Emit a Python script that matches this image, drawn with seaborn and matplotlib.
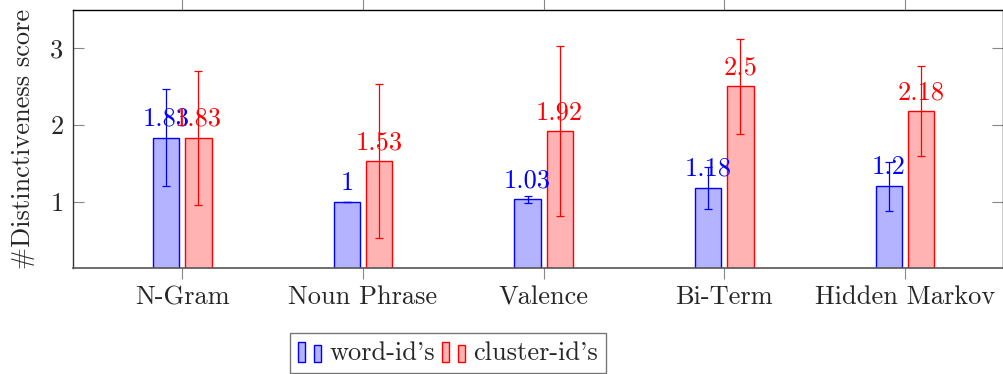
import matplotlib
matplotlib.use("Agg")
import matplotlib.pyplot as plt
from matplotlib.patches import Rectangle, Patch
from matplotlib.legend_handler import HandlerBase
import seaborn as sns
import pandas as pd
import numpy as np

categories = ["N-Gram", "Noun Phrase", "Valence", "Bi-Term", "Hidden Markov"]
series = ["word-id's", "cluster-id's"]
word_vals = [1.83, 1.0, 1.03, 1.18, 1.2]
word_err = [0.63, 0.0, 0.05, 0.27, 0.32]
cluster_vals = [1.83, 1.53, 1.92, 2.5, 2.18]
cluster_err = [0.87, 1.0, 1.1, 0.62, 0.59]
word_labels = ["1.83", "1", "1.03", "1.18", "1.2"]
cluster_labels = ["1.83", "1.53", "1.92", "2.5", "2.18"]
yticks = [1, 2, 3]

sns.set_style("white")
plt.rcParams['font.family'] = ['cmr10', 'DejaVu Serif']
plt.rcParams['mathtext.fontset'] = 'cm'
plt.rcParams['axes.unicode_minus'] = False
FS = 19

df = pd.DataFrame({
    "cat": categories * 2,
    "series": [series[0]] * 5 + [series[1]] * 5,
    "val": word_vals + cluster_vals,
})

fig = plt.figure(figsize=(10.04, 3.74), dpi=100)
ax = fig.add_axes([73.3 / 1004, 1 - 267.5 / 374, (1003 - 73.3) / 1004, (267.5 - 9.5) / 374])

fills = ["#b3b3ff", "#ffb3b3"]
edges = ["blue", "red"]
sns.barplot(data=df, x="cat", y="val", hue="series", order=categories, hue_order=series,
            palette=fills, width=0.356, gap=0.18, errorbar=None, legend=False, ax=ax,
            saturation=1)

patches = ax.patches
n = len(categories)
for i, p in enumerate(patches):
    s = i // n
    p.set_edgecolor(edges[s])
    p.set_linewidth(1.0)

all_vals = [word_vals, cluster_vals]
all_errs = [word_err, cluster_err]
all_labels = [word_labels, cluster_labels]
for s in range(2):
    xs = [patches[s * n + j].get_x() + patches[s * n + j].get_width() / 2 for j in range(n)]
    ax.errorbar(xs, all_vals[s], yerr=all_errs[s], fmt="none", ecolor=edges[s],
                elinewidth=0.9, capsize=3, capthick=0.9, zorder=3)
    for j in range(n):
        ax.annotate(all_labels[s][j], (xs[j], all_vals[s][j]), xytext=(0, 5),
                    textcoords="offset points", ha="center", va="bottom",
                    color=edges[s], fontsize=FS, zorder=4)

ax.set_xlim(-0.603, 4.542)
ax.set_ylim(0.145, 3.5)
ax.set_yticks(yticks)
ax.set_yticklabels([str(t) for t in yticks], fontsize=FS)
ax.set_xticks(range(n))
ax.set_xticklabels(categories, fontsize=FS)
ax.set_xlabel("")
ax.set_ylabel("#Distinctiveness score", fontsize=FS)
ax.yaxis.set_label_coords(-0.041, 0.5)

ax.tick_params(axis="x", direction="out", length=8, width=0.8, color="#888888",
               top=True, bottom=True, pad=5)
ax.tick_params(axis="y", direction="in", length=8, width=0.8, color="#888888",
               left=True, right=True, pad=7)
for side in ["top", "right"]:
    ax.spines[side].set_color("black")
    ax.spines[side].set_linewidth(1.0)
ax.spines["left"].set_color("#333333")
ax.spines["left"].set_linewidth(1.0)
ax.spines["bottom"].set_color("#555555")
ax.spines["bottom"].set_linewidth(1.2)


class TwoBarHandler(HandlerBase):
    def create_artists(self, legend, orig_handle, xdescent, ydescent, width, height,
                       fontsize, trans):
        fc = orig_handle.get_facecolor()
        ec = orig_handle.get_edgecolor()
        x0, y0 = -xdescent, -ydescent - 2.0
        w = 5.3
        r1 = Rectangle((x0, y0), w, 15.0, facecolor=fc, edgecolor=ec, lw=1.0, transform=trans)
        r2 = Rectangle((x0 + 11.5, y0), w, 12.3, facecolor=fc, edgecolor=ec, lw=1.0, transform=trans)
        return [r1, r2]


handles = [Patch(facecolor=fills[k], edgecolor=edges[k]) for k in range(2)]
leg = fig.legend(handles, series, handler_map={Patch: TwoBarHandler()},
                 loc="upper left", bbox_to_anchor=(290 / 1004, 1 - 333 / 374),
                 ncol=2, fontsize=FS, frameon=True, fancybox=False,
                 handlelength=0.9, handleheight=0.7, handletextpad=0.3,
                 columnspacing=0.25, borderpad=0.3, borderaxespad=0)
leg.get_frame().set_edgecolor("#555555")
leg.get_frame().set_linewidth(1.0)

fig.savefig("out.png", dpi=100)
